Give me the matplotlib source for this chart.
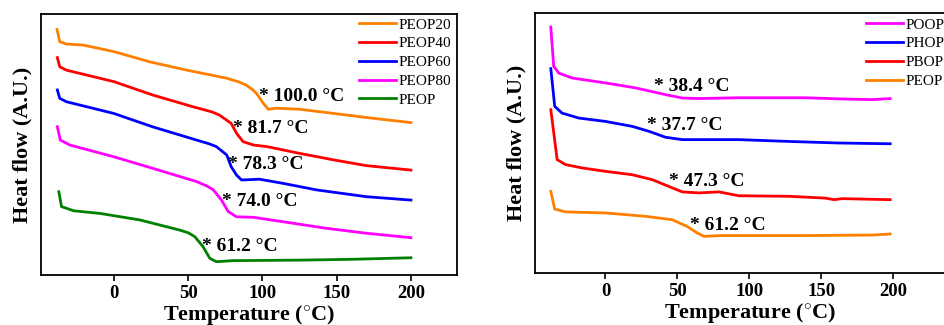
import matplotlib
matplotlib.use("Agg")
import matplotlib.pyplot as plt

plt.rcParams["font.family"] = ["Liberation Serif", "DejaVu Serif"]
plt.rcParams["mathtext.fontset"] = "custom"
plt.rcParams["mathtext.rm"] = "Liberation Serif:bold"

# ---- left panel: PEOPxx series (temperature, heat flow in A.U.) ----
t_peop20 = [-38.2, -36.4, -32, -20.7, 0, 24, 49, 76, 84, 89, 93, 96, 100.6, 104, 109.5, 125, 148, 175, 200]
h_peop20 = [94.1, 89.4, 88.5, 88.1, 85.6, 81.7, 78.5, 75.4, 74.0, 72.8, 71.2, 69.6, 65.8, 63.5, 63.9, 63.5, 61.9, 60.0, 58.4]

t_peop40 = [-38, -36.4, -32, 0, 26, 53, 66, 71, 79, 82.6, 87, 94, 103, 125, 148, 170, 200]
h_peop40 = [83.3, 79.8, 78.5, 74.1, 69.0, 64.5, 62.5, 61.3, 58.1, 54.3, 51.1, 49.8, 49.2, 46.6, 44.1, 41.9, 40.2]

t_peop60 = [-38, -36.4, -32, 0, 26, 55.7, 64, 69, 76, 79, 82.6, 86, 98, 114, 136.5, 170, 200]
h_peop60 = [70.9, 67.7, 66.4, 61.9, 56.8, 51.7, 50.3, 49.2, 46.0, 41.5, 38.3, 36.4, 36.7, 35.1, 32.6, 30.0, 28.7]

t_peop80 = [-38, -36, -29.6, 0, 26, 55.7, 63, 67, 72.5, 77, 82.6, 94, 114, 143, 170, 200]
h_peop80 = [56.8, 51.7, 49.8, 45.3, 40.9, 35.8, 34.0, 32.6, 28.7, 24.3, 22.3, 22.1, 20.4, 17.9, 16.0, 14.3]

t_peop = [-37, -35.2, -27, -9.4, 17.5, 44.4, 50, 54.5, 60, 64.6, 69, 80, 125, 159, 200]
h_peop = [31.9, 26.2, 24.6, 23.6, 21.1, 17.2, 16.2, 14.7, 10.9, 6.4, 5.1, 5.5, 5.7, 6.0, 6.6]

# ---- right panel ----
t_poop = [-38, -36, -32.5, -23.2, 0, 20.9, 41.8, 53.4, 65, 92.8, 139, 167, 185.6, 198]
h_poop = [94.6, 79.5, 76.9, 75.0, 73.1, 71.2, 68.6, 67.3, 67.1, 67.4, 67.4, 66.9, 66.7, 67.1]

t_phop = [-38, -35.3, -30.2, -18.6, 0, 18.6, 30.2, 41.8, 53.4, 92.8, 127.6, 162, 198]
h_phop = [78.6, 64.1, 61.5, 59.6, 58.3, 56.4, 54.5, 52.2, 51.3, 51.3, 50.6, 50.0, 49.7]

t_pbop = [-38, -33.6, -27.8, -16.2, 0, 18.6, 32.5, 44, 53.4, 65, 78.9, 92.8, 127.6, 153, 159, 164.6, 198]
h_pbop = [62.8, 43.6, 41.7, 40.4, 39.1, 37.8, 35.9, 33.3, 31.2, 30.8, 31.2, 29.7, 29.5, 28.8, 28.2, 28.6, 28.2]

t_peop_r = [-38, -35.3, -27.8, 0, 27.8, 46.4, 56.8, 63.8, 68.4, 81.2, 139, 162, 185.6, 198]
h_peop_r = [31.4, 24.6, 23.5, 23.1, 21.8, 20.5, 17.9, 15.4, 14.1, 14.4, 14.4, 14.5, 14.6, 15.0]

left_labels = ["PEOP20", "PEOP40", "PEOP60", "PEOP80", "PEOP"]
right_labels = ["POOP", "PHOP", "PBOP", "PEOP"]

left_notes = ["* 100.0 °C", "* 81.7 °C", "* 78.3 °C", "* 74.0 °C", "* 61.2 °C"]
left_note_x = [97.5, 80.5, 77.0, 72.8, 59.6]
left_note_y = [68.3, 56.2, 42.5, 28.1, 11.1]

right_notes = ["* 38.4 °C", "* 37.7 °C", "* 47.3 °C", "* 61.2 °C"]
right_note_x = [33.5, 29.0, 44.5, 58.8]
right_note_y = [71.8, 56.7, 35.3, 18.2]

ORANGE = "#ff8000"
RED = "#ff0000"
BLUE = "#0000ff"
MAGENTA = "#ff00ff"
GREEN = "#008000"


def style_axes(ax, xmax):
    ax.set_xlim(-49, xmax)
    ax.set_ylim(0, 100)
    ax.set_yticks([])
    ax.set_xticks([0, 50, 100, 150, 200])
    ax.tick_params(axis="x", direction="out", length=4, width=1.2, pad=3, labelsize=13.5)
    for lab in ax.get_xticklabels():
        lab.set_fontweight("bold")
    for sp in ax.spines.values():
        sp.set_linewidth(1.3)
    ax.set_xlabel(r"Temperature ($^{\circ}$C)", fontsize=16, fontweight="bold", labelpad=1)
    ax.set_ylabel("Heat flow (A.U.)", fontsize=16, fontweight="bold", labelpad=6)


def add_legend(handles, labels, x_px):
    fig.legend(handles, labels, loc="upper left", bbox_to_anchor=(x_px / 944, 307 / 325),
               frameon=False, fontsize=11, handlelength=2.4, handletextpad=0.2,
               labelspacing=0.33, borderpad=0, borderaxespad=0)


fig = plt.figure(figsize=(9.44, 3.25), dpi=100)

ax1 = fig.add_axes([41 / 944, 50 / 325, 416 / 944, 261 / 325])
lines1 = [
    ax1.plot(t_peop20, h_peop20, color=ORANGE, lw=2)[0],
    ax1.plot(t_peop40, h_peop40, color=RED, lw=2)[0],
    ax1.plot(t_peop60, h_peop60, color=BLUE, lw=2)[0],
    ax1.plot(t_peop80, h_peop80, color=MAGENTA, lw=2)[0],
    ax1.plot(t_peop, h_peop, color=GREEN, lw=2)[0],
]
for txt, x, y in zip(left_notes, left_note_x, left_note_y):
    ax1.text(x, y, txt, fontsize=14, fontweight="bold", va="center", ha="left")
style_axes(ax1, 231)
add_legend(lines1, left_labels, 359)

ax2 = fig.add_axes([535 / 944, 52 / 325, 430 / 944, 260 / 325])
lines2 = [
    ax2.plot(t_poop, h_poop, color=MAGENTA, lw=2)[0],
    ax2.plot(t_phop, h_phop, color=BLUE, lw=2)[0],
    ax2.plot(t_pbop, h_pbop, color=RED, lw=2)[0],
    ax2.plot(t_peop_r, h_peop_r, color=ORANGE, lw=2)[0],
]
for txt, x, y in zip(right_notes, right_note_x, right_note_y):
    ax2.text(x, y, txt, fontsize=14, fontweight="bold", va="center", ha="left")
style_axes(ax2, 250)
add_legend(lines2, right_labels, 866)

fig.savefig("out.png", dpi=100)
